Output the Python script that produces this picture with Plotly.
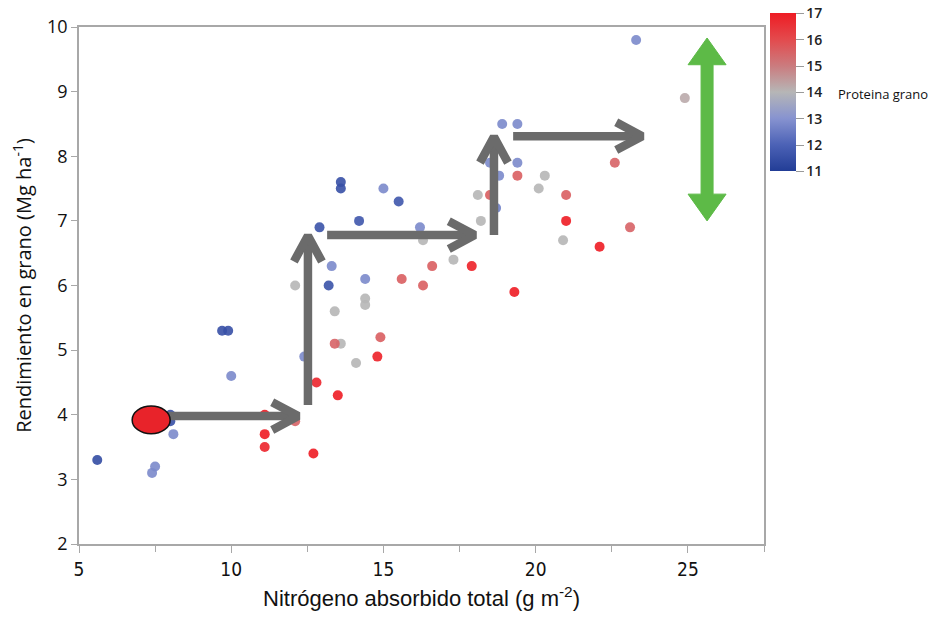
import plotly.graph_objects as go

# ---------------- data ----------------
nitrogeno = [5.6, 7.4, 7.5, 8.0, 8.0, 8.1, 9.7, 9.9, 10.0,
             11.1, 11.1, 11.1, 12.1, 12.7, 12.8, 12.4, 13.5, 13.6, 13.4, 14.1, 14.9, 14.8,
             13.6, 13.6, 15.0, 15.5, 14.2, 12.9, 16.2, 13.3, 12.1, 13.2, 14.4, 15.6,
             14.4, 14.4, 13.4, 16.3, 16.6, 17.3, 17.9, 16.3, 19.3,
             18.9, 19.4, 19.4, 18.5, 18.8, 19.4, 20.3, 20.1, 18.1, 18.5, 18.7,
             21.0, 22.6, 18.2, 21.0, 20.9, 23.1, 22.1, 23.3, 24.9]
rendimiento = [3.3, 3.1, 3.2, 4.0, 3.9, 3.7, 5.3, 5.3, 4.6,
               4.0, 3.7, 3.5, 3.9, 3.4, 4.5, 4.9, 4.3, 5.1, 5.1, 4.8, 5.2, 4.9,
               7.6, 7.5, 7.5, 7.3, 7.0, 6.9, 6.9, 6.3, 6.0, 6.0, 6.1, 6.1,
               5.8, 5.7, 5.6, 6.0, 6.3, 6.4, 6.3, 6.7, 5.9,
               8.5, 8.5, 7.9, 7.9, 7.7, 7.7, 7.7, 7.5, 7.4, 7.4, 7.2,
               7.4, 7.9, 7.0, 7.0, 6.7, 6.9, 6.6, 9.8, 8.9]
proteina = [11.4, 12.8, 12.8, 11.5, 11.5, 12.8, 11.5, 11.5, 12.8,
            17.0, 17.0, 16.8, 15.5, 17.0, 16.8, 12.8, 17.0, 14.0, 15.5, 14.0, 15.6, 16.9,
            11.5, 11.5, 12.8, 11.7, 11.7, 11.6, 12.8, 12.8, 14.0, 11.6, 12.8, 15.6,
            14.0, 14.0, 14.0, 15.6, 15.6, 14.0, 16.9, 14.0, 17.0,
            12.8, 12.8, 12.8, 12.8, 12.8, 15.6, 14.0, 14.0, 14.0, 15.6, 12.6,
            15.6, 15.5, 14.0, 17.0, 14.0, 15.5, 17.0, 12.8, 14.2]

x_ticks = [5, 10, 15, 20, 25]
y_ticks = [2, 3, 4, 5, 6, 7, 8, 9, 10]
cbar_ticks = [11, 12, 13, 14, 15, 16, 17]

# highlighted starting point (red ellipse)
punto_inicial_x = 7.37
punto_inicial_y = 3.92

# gray step arrows (start -> tip)
arrow_x0 = [7.75, 12.52, 13.15, 18.63, 19.26]
arrow_y0 = [3.98, 4.15, 6.78, 6.78, 8.31]
arrow_x1 = [12.2, 12.52, 18.0, 18.63, 23.5]
arrow_y1 = [3.98, 6.77, 6.78, 8.30, 8.31]

# green double arrow
green_x = 25.63
green_y_top = 9.83
green_y_bot = 7.0

# ---------------- layout geometry ----------------
W, H = 934, 619
ML, MR, MT, MB = 79, 170, 27, 70
XR = [5, 27.5]
YR = [2, 10]
PW = W - ML - MR
PH = H - MT - MB
sx = PW / (XR[1] - XR[0])   # px per x unit
sy = PH / (YR[1] - YR[0])   # px per y unit

colorscale = [[0.0, '#223d96'], [1/6, '#4c62b6'], [2/6, '#8793d0'],
              [0.5, '#b6b6b6'], [4/6, '#cb7b7e'], [5/6, '#e34a4d'], [1.0, '#ee1c24']]

fig = go.Figure()

fig.add_trace(go.Scatter(
    x=nitrogeno, y=rendimiento, mode='markers',
    marker=dict(size=10, color=proteina, cmin=11, cmax=17, colorscale=colorscale,
                opacity=0.9, line=dict(width=0),
                showscale=True,
                colorbar=dict(
                    x=(770 - ML) / PW, xanchor='left', xpad=0,
                    y=(H - MB - 93) / PH, yanchor='middle', ypad=0,
                    len=158, lenmode='pixels', thickness=26,
                    outlinewidth=0,
                    tickvals=cbar_ticks, ticks='outside', ticklen=8,
                    tickcolor='#9a9a9a',
                    tickfont=dict(family='Open Sans', size=14, color='#222222', weight=600),
                )),
    hoverinfo='skip', showlegend=False,
))

# gray arrows
ARROW_COLOR = '#6b6b6b'
back_px, half_px = 26, 14
for x0, y0, x1, y1 in zip(arrow_x0, arrow_y0, arrow_x1, arrow_y1):
    dxp = (x1 - x0) * sx
    dyp = (y1 - y0) * sy
    L = (dxp ** 2 + dyp ** 2) ** 0.5
    ux, uy = dxp / L, dyp / L
    px, py = -uy, ux
    a1x = x1 + (-ux * back_px + px * half_px) / sx
    a1y = y1 + (-uy * back_px + py * half_px) / sy
    a2x = x1 + (-ux * back_px - px * half_px) / sx
    a2y = y1 + (-uy * back_px - py * half_px) / sy
    sxe = x1 - ux * 3 / sx
    sye = y1 - uy * 3 / sy
    fig.add_trace(go.Scatter(
        x=[x0, sxe, None, a1x, x1, a2x],
        y=[y0, sye, None, a1y, y1, a2y],
        mode='lines', line=dict(color=ARROW_COLOR, width=8.5),
        hoverinfo='skip', showlegend=False,
    ))

# green double arrow (filled polygon)
hw_shaft = 6 / sx
hw_head = 19 / sx
head_d = 27 / sy
gx = [green_x, green_x + hw_head, green_x + hw_shaft, green_x + hw_shaft, green_x + hw_head,
      green_x, green_x - hw_head, green_x - hw_shaft, green_x - hw_shaft, green_x - hw_head, green_x]
gy = [green_y_top, green_y_top - head_d, green_y_top - head_d, green_y_bot + head_d, green_y_bot + head_d,
      green_y_bot, green_y_bot + head_d, green_y_bot + head_d, green_y_top - head_d, green_y_top - head_d,
      green_y_top]
fig.add_trace(go.Scatter(
    x=gx, y=gy, mode='lines', fill='toself', fillcolor='#5dba47',
    line=dict(color='#5dba47', width=1), hoverinfo='skip', showlegend=False,
))

# red ellipse (highlighted point)
rx, ry = 19 / sx, 14 / sy
fig.add_shape(type='circle', xref='x', yref='y',
              x0=punto_inicial_x - rx, x1=punto_inicial_x + rx,
              y0=punto_inicial_y - ry, y1=punto_inicial_y + ry,
              fillcolor='#e8232a', line=dict(color='#111111', width=1.5), layer='above')

fig.add_annotation(
    text='Proteina grano', xref='paper', yref='paper',
    x=(836 - ML) / PW, y=(H - MB - 95) / PH, xanchor='left', yanchor='middle',
    showarrow=False, font=dict(family='Open Sans', size=13, color='#111111'),
)

AXIS_COLOR = '#a8a8a8'
fig.update_layout(
    width=W, height=H,
    margin=dict(l=ML, r=MR, t=MT, b=MB),
    paper_bgcolor='white', plot_bgcolor='white',
    xaxis=dict(
        range=XR, tickvals=x_ticks, showgrid=False, zeroline=False,
        showline=True, linecolor=AXIS_COLOR, linewidth=1.5, mirror=True,
        ticks='outside', ticklen=7, tickcolor=AXIS_COLOR, tickwidth=1.2,
        minor=dict(tickvals=[7.5, 12.5, 17.5, 22.5, 27.5], ticks='outside', ticklen=6,
                   tickcolor=AXIS_COLOR, showgrid=False),
        tickfont=dict(family='Liberation Sans Narrow, DejaVu Sans Condensed, Liberation Sans',
                      size=19, color='#111111'),
        title=dict(text='Nitrógeno absorbido total (g m<sup>-2</sup>)',
                   font=dict(family='Liberation Sans Narrow, Liberation Sans', size=22, color='#111111'),
                   standoff=12),
    ),
    yaxis=dict(
        range=YR, tickvals=y_ticks, showgrid=False, zeroline=False,
        showline=True, linecolor=AXIS_COLOR, linewidth=1.5, mirror=True,
        ticks='outside', ticklen=6, tickcolor=AXIS_COLOR, tickwidth=1.2,
        tickfont=dict(family='Open Sans', size=18, color='#111111'),
        title=dict(text='Rendimiento en grano (Mg ha<sup>-1</sup>)',
                   font=dict(family='Open Sans', size=20, color='#111111'),
                   standoff=10),
    ),
)

fig.write_html('out.html')
